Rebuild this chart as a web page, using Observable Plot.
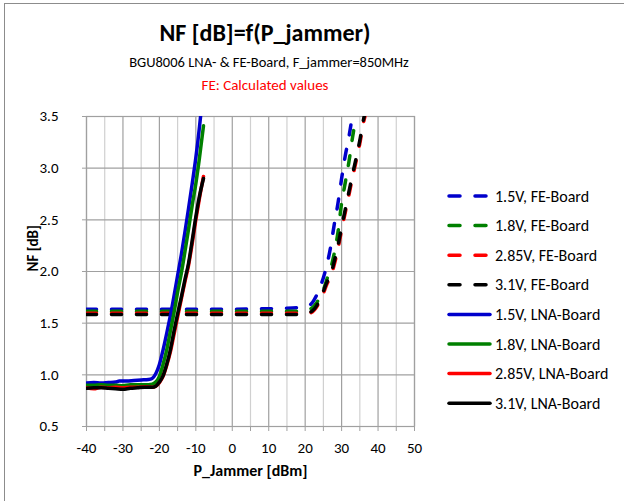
<!DOCTYPE html>
<html><head><meta charset="utf-8">
<script src="https://cdn.jsdelivr.net/npm/d3@7"></script>
<script src="https://cdn.jsdelivr.net/npm/@observablehq/plot@0.6"></script>
<style>
body{margin:0;background:#fff;overflow:hidden;}
#wrap{position:relative;width:624px;height:501px;overflow:hidden;font-family:Carlito,Calibri,Lato,sans-serif;}
#border{position:absolute;left:4px;top:3px;width:640px;height:520px;border:1px solid #8c8c8c;box-sizing:border-box;}
#plot,#overlay{position:absolute;left:0;top:0;}
#overlay{pointer-events:none;}
</style></head>
<body><div id="wrap"><div id="border"></div><div id="plot"></div><svg id="overlay" width="624" height="501"></svg></div>
<script>
// ---- text ----
const titleText = "NF [dB]=f(P_jammer)";
const subtitleText = "BGU8006 LNA- & FE-Board, F_jammer=850MHz";
const noteText = "FE: Calculated values";
const xLabel = "P_Jammer [dBm]";
const yLabel = "NF [dB]";

// ---- ticks ----
const xTicks = [-40, -35, -30, -25, -20, -15, -10, -5, 0, 5, 10, 15, 20, 25, 30, 35, 40, 45, 50];
const xMajor = [-40, -30, -20, -10, 0, 10, 20, 30, 40, 50];
const xMinor = [-35, -25, -15, -5, 5, 15, 25, 35, 45];
const yTicks = [0.5, 1.0, 1.5, 2.0, 2.5, 3.0, 3.5];

// ---- series ----
const seriesNames = ["1.5V, FE-Board", "1.8V, FE-Board", "2.85V, FE-Board", "3.1V, FE-Board",
                     "1.5V, LNA-Board", "1.8V, LNA-Board", "2.85V, LNA-Board", "3.1V, LNA-Board"];
const seriesColors = ["#0000cc", "#008000", "#ff0000", "#000000", "#0000cc", "#008000", "#ff0000", "#000000"];
const seriesDashed = [true, true, true, true, false, false, false, false];

// FE-Board (calculated)
const fe15x = [-40,-30,-20,-10,0,10,15,18,20,21,22,23,24,25,26,27,28,29,30,31,32,32.9];
const fe15y = [1.635,1.635,1.635,1.635,1.635,1.64,1.645,1.65,1.655,1.67,1.7,1.76,1.84,1.94,2.07,2.24,2.46,2.66,2.9,3.12,3.3,3.5];
const fe18x = [-40,-30,-20,-10,0,10,15,18,20,21,22,23,24,25,26,27,28,29,30,31,32,33,34];
const fe18y = [1.615,1.615,1.615,1.615,1.615,1.615,1.615,1.615,1.62,1.63,1.65,1.69,1.75,1.82,1.93,2.03,2.18,2.38,2.66,2.86,3.06,3.3,3.5];
const fe285x = [-40,-30,-20,-10,0,10,15,18,20,21,22,23,24,25,26,27,28,29,30,31,32,33,34,35,36,36.4];
const fe285y = [1.595,1.595,1.595,1.595,1.595,1.595,1.595,1.595,1.585,1.595,1.61,1.65,1.71,1.79,1.88,1.95,2.07,2.22,2.4,2.57,2.74,2.91,3.07,3.24,3.44,3.5];
const fe31x = [-40,-30,-20,-10,0,10,15,18,20,21,22,23,24,25,26,27,28,29,30,31,32,33,34,35,36,36.2];
const fe31y = [1.585,1.585,1.585,1.585,1.585,1.585,1.585,1.585,1.59,1.6,1.62,1.66,1.73,1.81,1.9,1.97,2.1,2.25,2.43,2.6,2.77,2.94,3.1,3.27,3.47,3.5];

// LNA-Board (measured)
const lna15x = [-40,-38,-36,-34,-32,-31,-29,-27,-25,-23,-22,-21,-20,-19,-18,-17,-16,-15,-14,-13,-12,-11,-10,-9,-8.7];
const lna15y = [0.92,0.925,0.92,0.925,0.93,0.94,0.94,0.945,0.95,0.955,0.965,1.01,1.1,1.24,1.4,1.57,1.76,1.96,2.16,2.38,2.61,2.85,3.1,3.4,3.5];
const lna18x = [-40,-38,-36,-34,-32,-30,-28,-26,-24,-22,-21,-20,-19,-18,-17,-16,-15,-14,-13,-12,-11,-10,-9,-8,-7.9];
const lna18y = [0.9,0.9,0.905,0.9,0.9,0.895,0.905,0.905,0.905,0.91,0.93,0.985,1.1,1.24,1.42,1.6,1.8,1.98,2.19,2.41,2.64,2.85,3.1,3.38,3.41];
const lna285x = [-40,-38,-36,-34,-32,-30,-28,-26,-24,-22,-21,-20,-19,-18,-17,-16,-15,-14,-13,-12,-11,-10,-9,-7.9];
const lna285y = [0.875,0.865,0.88,0.875,0.88,0.875,0.88,0.88,0.885,0.88,0.89,0.925,0.985,1.09,1.22,1.39,1.56,1.73,1.9,2.06,2.27,2.5,2.71,2.92];
const lna31x = [-40,-38,-36,-34,-32,-30,-28,-26,-24,-22,-21,-20,-19,-18,-17,-16,-15,-14,-13,-12,-11,-10,-9,-7.9];
const lna31y = [0.87,0.875,0.875,0.87,0.865,0.86,0.87,0.875,0.88,0.88,0.89,0.93,0.99,1.1,1.24,1.42,1.59,1.75,1.92,2.08,2.3,2.53,2.73,2.9];

const seriesX = [fe15x, fe18x, fe285x, fe31x, lna15x, lna18x, lna285x, lna31x];
const seriesY = [fe15y, fe18y, fe285y, fe31y, lna15y, lna18y, lna285y, lna31y];

const font = "Carlito, Calibri, Lato, sans-serif";

const lineMarks = seriesNames.map((name, i) => {
  const rows = seriesX[i].map((x, j) => ({x, y: seriesY[i][j], name}));
  return Plot.line(rows, {
    x: "x", y: "y", stroke: seriesColors[i], strokeWidth: 3.5,
    strokeLinecap: "round", strokeLinejoin: "round",
    strokeDasharray: seriesDashed[i] ? "10,15" : null,
    curve: "monotone-x", clip: true
  });
});

const chart = Plot.plot({
  width: 624, height: 501,
  marginLeft: 86, marginRight: 210, marginTop: 116, marginBottom: 75,
  style: {fontFamily: font, fontSize: "14px", color: "#000", background: "transparent", overflow: "visible"},
  x: {domain: [-40, 50]},
  y: {domain: [0.5, 3.5]},
  marks: [
    Plot.ruleX(xMinor, {stroke: "#d0d0d0", strokeWidth: 1.2}),
    Plot.ruleX(xMajor, {stroke: "#a0a0a0", strokeWidth: 1.2}),
    Plot.ruleY(yTicks, {stroke: "#a0a0a0", strokeWidth: 1.2}),
    Plot.frame({stroke: "#a0a0a0", strokeWidth: 1.2}),
    Plot.axisX({ticks: xTicks, tickFormat: d => (d % 10 === 0 ? String(d) : ""), tickSize: 5, tickPadding: 11, fontSize: 15, stroke: "#a0a0a0", fill: "#000", label: null}),
    Plot.axisY({ticks: yTicks, tickFormat: d3.format(".1f"), tickSize: 4, tickPadding: 24, fontSize: 15, stroke: "#a0a0a0", fill: "#000", label: null}),
    Plot.text([yLabel], {text: d => d, frameAnchor: "left", rotate: -90, dx: -53, fontWeight: "bold", fontSize: 15, fill: "#000"}),
    Plot.text([xLabel], {text: d => d, frameAnchor: "bottom", lineAnchor: "middle", dy: 44, fontWeight: "bold", fontSize: 16, fill: "#000"}),
    ...lineMarks
  ]
});
document.getElementById("plot").appendChild(chart);

// ---- titles and legend ----
const ov = d3.select("#overlay").style("font-family", font);
ov.append("text").attr("x", 265).attr("y", 41).attr("text-anchor", "middle")
  .attr("font-size", 24).attr("font-weight", "bold").attr("fill", "#000").text(titleText);
ov.append("text").attr("x", 269).attr("y", 67).attr("text-anchor", "middle")
  .attr("font-size", 14.5).attr("fill", "#000").text(subtitleText);
ov.append("text").attr("x", 265).attr("y", 90).attr("text-anchor", "middle")
  .attr("font-size", 15).attr("fill", "#ff0000").text(noteText);

const lg = ov.append("g");
seriesNames.forEach((name, i) => {
  const cy = 196 + i * 29.6;
  lg.append("line").attr("x1", 449).attr("x2", 490).attr("y1", cy).attr("y2", cy)
    .attr("stroke", seriesColors[i]).attr("stroke-width", 3.5).attr("stroke-linecap", "round")
    .attr("stroke-dasharray", seriesDashed[i] ? "11,15" : null);
  lg.append("text").attr("x", 495).attr("y", cy).attr("dy", "0.35em")
    .attr("font-size", 16).attr("fill", "#000").text(name);
});
</script>
</body></html>
